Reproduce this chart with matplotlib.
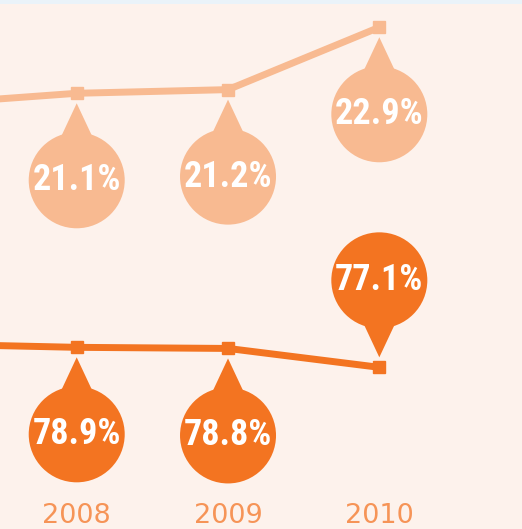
import numpy as np
import matplotlib.pyplot as plt
import matplotlib.transforms as mtransforms
from matplotlib.patches import Circle, Polygon, Rectangle
from matplotlib import font_manager

# data (2007 point sits just off the left edge)
years = [2007, 2008, 2009, 2010]
share_small = [20.8, 21.1, 21.2, 22.9]
share_large = [79.2, 78.9, 78.8, 77.1]
labels_small = ['', '21.1%', '21.2%', '22.9%']
labels_large = ['', '78.9%', '78.8%', '77.1%']
year_labels = ['2008', '2009', '2010']

BG = '#FDF2EC'
STRIP = '#EAF3F9'
LIGHT = '#F8BA91'
DARK = '#F37421'
YEAR_COL = '#F69457'

names = {f.name for f in font_manager.fontManager.ttflist}
narrow = 'DejaVu Sans'
for cand in ['Liberation Sans Narrow', 'DejaVu Sans Condensed', 'Roboto Condensed']:
    if cand in names:
        narrow = cand
        break

fig = plt.figure(figsize=(5.22, 5.29), dpi=100)
fig.patch.set_facecolor(BG)
ax_top = fig.add_axes([0, 0, 1, 1])
ax_bot = ax_top.twinx()
for ax in (ax_top, ax_bot):
    ax.set_facecolor('none')
    ax.axis('off')
ax_top.set_xlim(2007.493, 2010.943)
ax_top.set_ylim(9.218, 23.644)
ax_bot.set_ylim(62.55, 110.16)

fig.add_artist(Rectangle((0, 1 - 4 / 529), 1, 4 / 529, transform=fig.transFigure,
                         color=STRIP, lw=0))


def bubble(ax, x, y, text, color, below=True):
    s = -1 if below else 1
    tr = mtransforms.ScaledTranslation(x, y, ax.transData)
    ax.add_patch(Circle((0, s * 87), 48, transform=tr, color=color, lw=0, zorder=4))
    ax.add_patch(Polygon([(0, s * 10), (-15, s * 42), (15, s * 42)], closed=True,
                         transform=tr, color=color, lw=0, zorder=4))
    ax.annotate(text, (x, y), xytext=(0, s * 87 * 0.72), textcoords='offset points',
                ha='center', va='center', color='white', fontsize=26,
                fontweight='bold', family=narrow, zorder=5)


ax_top.plot(years, share_small, color=LIGHT, lw=5, marker='s', ms=9, zorder=3)
ax_bot.plot(years, share_large, color=DARK, lw=5, marker='s', ms=9, zorder=3)

for yr, v, lab in zip(years, share_small, labels_small):
    if lab:
        bubble(ax_top, yr, v, lab, LIGHT)
for yr, v, lab in zip(years, share_large, labels_large):
    if lab:
        # the last one sits above the line
        bubble(ax_bot, yr, v, lab, DARK, below=(yr != years[-1]))

for yr, lab in zip(years[1:], year_labels):
    ax_top.annotate(lab, (yr, 0), xycoords=('data', 'figure pixels'),
                    xytext=(0, 13 * 0.72), textcoords='offset points',
                    ha='center', va='center', color=YEAR_COL, fontsize=19.5,
                    family='DejaVu Sans')

fig.savefig('out.png', dpi=100, facecolor=BG)
